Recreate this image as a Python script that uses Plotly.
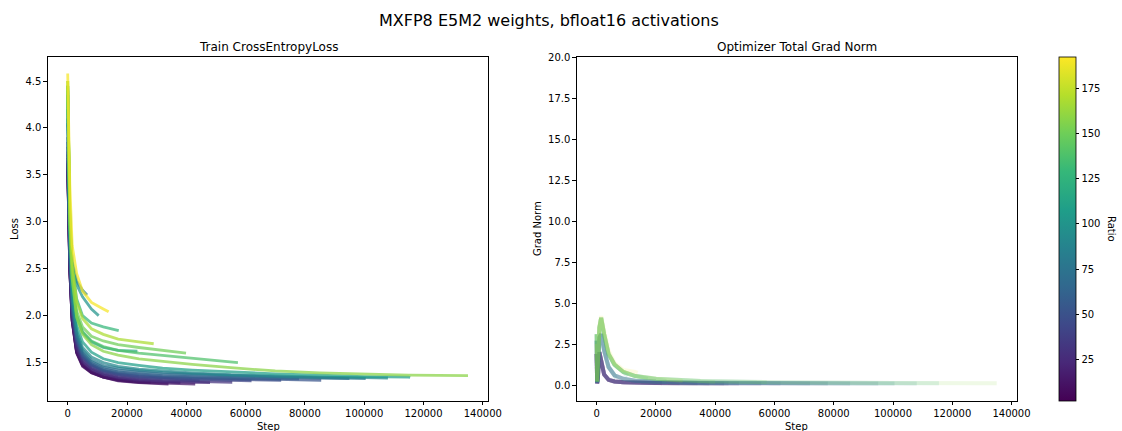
import plotly.graph_objects as go
from plotly.colors import sample_colorscale

# ---------------- data ----------------
RATIO_MIN = 2
RATIO_MAX = 192

LOSS_GRID = [0, 300, 700, 1500, 3000, 5000, 8000, 12000, 17000, 24000, 32000,
             42000, 55000, 70000, 85000, 100000, 115000, 135000]

RUN_RATIOS = [2, 6, 10, 14, 19, 24, 30, 36, 42, 47, 52, 60, 66, 78, 85, 90,
              100, 108, 118, 128, 138, 150, 158, 168, 190]
RUN_END_STEPS = [22000, 28000, 34000, 43000, 38000, 48000, 55500, 44500, 62000,
                 72000, 85500, 78000, 95000, 100500, 6500, 108000, 10450, 115500,
                 23500, 17200, 57400, 39900, 135000, 29000, 13800]

LOSS_R002 = [3.55, 3.10, 2.50, 1.96, 1.62, 1.48, 1.40, 1.35, 1.32, 1.30]
LOSS_R006 = [3.58, 3.10, 2.48, 1.95, 1.61, 1.47, 1.39, 1.345, 1.315, 1.295, 1.29]
LOSS_R010 = [3.60, 3.10, 2.48, 1.94, 1.60, 1.46, 1.39, 1.345, 1.305, 1.285, 1.275, 1.27]
LOSS_R014 = [3.62, 3.10, 2.48, 1.95, 1.61, 1.47, 1.40, 1.345, 1.31, 1.29, 1.28, 1.27, 1.27]
LOSS_R019 = [3.62, 3.15, 2.52, 1.98, 1.64, 1.50, 1.42, 1.365, 1.33, 1.305, 1.29, 1.285]
LOSS_R024 = [3.63, 3.15, 2.53, 1.99, 1.66, 1.51, 1.43, 1.375, 1.34, 1.315, 1.30, 1.29, 1.285]
LOSS_R030 = [3.65, 3.20, 2.58, 2.02, 1.68, 1.53, 1.44, 1.385, 1.35, 1.325, 1.31, 1.30, 1.29, 1.29]
LOSS_R036 = [3.68, 3.20, 2.60, 2.04, 1.71, 1.55, 1.46, 1.40, 1.365, 1.34, 1.325, 1.31, 1.305]
LOSS_R042 = [3.72, 3.25, 2.65, 2.07, 1.73, 1.56, 1.47, 1.41, 1.375, 1.35, 1.335, 1.32, 1.31, 1.305]
LOSS_R047 = [3.75, 3.28, 2.68, 2.08, 1.74, 1.57, 1.475, 1.415, 1.38, 1.355, 1.34, 1.33, 1.32, 1.31, 1.31]
LOSS_R052 = [3.80, 3.30, 2.70, 2.10, 1.76, 1.58, 1.48, 1.42, 1.39, 1.37, 1.35, 1.34, 1.33, 1.32, 1.31, 1.31]
LOSS_R060 = [3.85, 3.35, 2.72, 2.12, 1.77, 1.59, 1.495, 1.435, 1.40, 1.38, 1.36, 1.35, 1.34, 1.33, 1.325]
LOSS_R066 = [3.90, 3.40, 2.75, 2.15, 1.79, 1.61, 1.51, 1.45, 1.42, 1.40, 1.38, 1.37, 1.355, 1.345, 1.335, 1.33]
LOSS_R078 = [4.05, 3.50, 2.80, 2.18, 1.81, 1.63, 1.53, 1.47, 1.44, 1.415, 1.395, 1.38, 1.365, 1.35, 1.34, 1.335, 1.33]
LOSS_R085 = [4.10, 3.55, 2.95, 2.58, 2.37, 2.27, 2.22]
LOSS_R090 = [4.20, 3.60, 2.85, 2.22, 1.84, 1.66, 1.56, 1.50, 1.46, 1.43, 1.41, 1.39, 1.37, 1.355, 1.345, 1.34, 1.335]
LOSS_R100 = [4.35, 3.70, 3.00, 2.55, 2.33, 2.20, 2.07, 2.00]
LOSS_R108 = [4.35, 3.70, 2.95, 2.30, 1.90, 1.72, 1.61, 1.54, 1.50, 1.47, 1.44, 1.42, 1.40, 1.38, 1.365, 1.35, 1.345, 1.34]
LOSS_R118 = [4.40, 3.75, 3.00, 2.38, 2.00, 1.82, 1.72, 1.66, 1.63, 1.62]
LOSS_R128 = [4.45, 3.80, 3.10, 2.55, 2.18, 2.00, 1.92, 1.88, 1.845, 1.84]
LOSS_R138 = [4.45, 3.75, 3.00, 2.40, 2.00, 1.83, 1.73, 1.67, 1.63, 1.60, 1.575, 1.55, 1.51, 1.50]
LOSS_R150 = [4.45, 3.80, 3.05, 2.45, 2.05, 1.88, 1.78, 1.73, 1.69, 1.66, 1.63, 1.60]
LOSS_R158 = [4.50, 3.80, 3.00, 2.40, 1.98, 1.80, 1.69, 1.62, 1.58, 1.54, 1.51, 1.48, 1.445, 1.41, 1.39, 1.375, 1.365, 1.36]
LOSS_R168 = [4.50, 3.85, 3.15, 2.55, 2.15, 1.97, 1.86, 1.80, 1.75, 1.72, 1.70]
LOSS_R190 = [4.58, 4.10, 3.40, 2.75, 2.45, 2.26, 2.14, 2.07, 2.04]

RUN_LOSSES = [LOSS_R002, LOSS_R006, LOSS_R010, LOSS_R014, LOSS_R019, LOSS_R024,
              LOSS_R030, LOSS_R036, LOSS_R042, LOSS_R047, LOSS_R052, LOSS_R060,
              LOSS_R066, LOSS_R078, LOSS_R085, LOSS_R090, LOSS_R100, LOSS_R108,
              LOSS_R118, LOSS_R128, LOSS_R138, LOSS_R150, LOSS_R158, LOSS_R168,
              LOSS_R190]

GN_GRID = [0, 150, 400, 900, 1500, 2500, 4000, 6000, 9000, 13000, 20000, 35000,
           60000, 100000, 135000, 160000]
GN_LOW = [1.9, 0.10, 0.45, 2.0, 1.5, 0.65, 0.32, 0.22, 0.17, 0.14, 0.12, 0.105, 0.095, 0.09, 0.09, 0.09]
GN_MID = [2.7, 0.15, 0.8, 2.9, 3.1, 2.1, 1.1, 0.60, 0.38, 0.27, 0.20, 0.14, 0.12, 0.10, 0.10, 0.10]
GN_HIGH = [3.1, 0.20, 1.2, 3.5, 4.1, 3.1, 1.9, 1.25, 0.80, 0.55, 0.38, 0.25, 0.17, 0.13, 0.11, 0.11]
GN_YEL = [2.5, 0.25, 1.3, 3.6, 4.2, 3.3, 2.1, 1.35, 0.92, 0.80, 0.75, 0.5, 0.3, 0.2, 0.15, 0.15]

X_TICKS = [0, 20000, 40000, 60000, 80000, 100000, 120000, 140000]
LOSS_TICKS = [1.5, 2.0, 2.5, 3.0, 3.5, 4.0, 4.5]
GN_TICKS = [0.0, 2.5, 5.0, 7.5, 10.0, 12.5, 15.0, 17.5, 20.0]
CBAR_TICKS = [25, 50, 75, 100, 125, 150, 175]

# ---------------- figure ----------------
W, H = 1122, 431
fig = go.Figure()

def px_x(p):
    return p / W

def px_y(p):
    return 1 - p / H

def color_for(r):
    return sample_colorscale("Viridis", [(r - RATIO_MIN) / (RATIO_MAX - RATIO_MIN)])[0]

def gn_profile(r):
    if r < 50:
        return GN_LOW
    if r < 100:
        return GN_MID
    if r < 180:
        return GN_HIGH
    return GN_YEL

for r, end, losses in zip(RUN_RATIOS, RUN_END_STEPS, RUN_LOSSES):
    c = color_for(r)
    steps = [s for s in LOSS_GRID if s < end] + [end]
    fig.add_trace(go.Scatter(x=steps, y=losses, mode="lines",
                             line=dict(color=c, width=2.8), opacity=0.72,
                             showlegend=False, hoverinfo="skip",
                             xaxis="x", yaxis="y"))
    prof = gn_profile(r)
    n = len([s for s in GN_GRID if s < end])
    gsteps = GN_GRID[:n] + [end]
    gvals = prof[:n] + [prof[n]]
    fig.add_trace(go.Scatter(x=gsteps, y=gvals, mode="lines",
                             line=dict(color=c, width=4), opacity=0.13,
                             showlegend=False, hoverinfo="skip",
                             xaxis="x2", yaxis="y2"))

# colorbar carrier
fig.add_trace(go.Scatter(
    x=[None, None], y=[None, None], mode="markers", xaxis="x2", yaxis="y2",
    showlegend=False, hoverinfo="skip",
    marker=dict(color=[RATIO_MIN, RATIO_MAX], colorscale="Viridis",
                cmin=RATIO_MIN, cmax=RATIO_MAX, showscale=True,
                colorbar=dict(x=px_x(1059), xanchor="left", xpad=0, ypad=0,
                              y=px_y(57.3), yanchor="top", len=(401 - 57.3) / H,
                              lenmode="fraction", thickness=16.5,
                              thicknessmode="pixels", outlinewidth=0.8,
                              outlinecolor="black", ticks="outside", ticklen=3.5,
                              tickwidth=0.8, tickcolor="black",
                              tickvals=CBAR_TICKS,
                              tickfont=dict(size=10, color="black",
                                            family="DejaVu Sans")))))

axis_common = dict(showgrid=False, zeroline=False, showline=True, linecolor="black",
                   linewidth=0.8, mirror=True, ticks="outside", ticklen=3.5,
                   tickwidth=0.8, tickcolor="black", automargin=False,
                   tickfont=dict(size=10, color="black", family="DejaVu Sans"))

fig.update_layout(
    width=W, height=H, margin=dict(l=0, r=0, t=0, b=0, autoexpand=False),
    paper_bgcolor="white", plot_bgcolor="white",
    font=dict(family="DejaVu Sans", color="black"),
    xaxis=dict(domain=[px_x(47.7), px_x(488)], range=[-6750, 141750],
               tickvals=X_TICKS, tickformat="d", anchor="y", **axis_common),
    yaxis=dict(domain=[px_y(401), px_y(57)], range=[1.09, 4.756],
               tickvals=LOSS_TICKS, tickformat=".1f", anchor="x", **axis_common),
    xaxis2=dict(domain=[px_x(576.7), px_x(1016.7)], range=[-6750, 141750],
                tickvals=X_TICKS, tickformat="d", anchor="y2", **axis_common),
    yaxis2=dict(domain=[px_y(401), px_y(57)], range=[-0.97, 20],
                tickvals=GN_TICKS, tickformat=".1f", anchor="x2", **axis_common),
)

ann = [
    dict(text="MXFP8 E5M2 weights, bfloat16 activations", x=px_x(549), y=px_y(20),
         font=dict(size=16)),
    dict(text="Train CrossEntropyLoss", x=px_x(268), y=px_y(47), font=dict(size=12)),
    dict(text="Optimizer Total Grad Norm", x=px_x(796.7), y=px_y(47), font=dict(size=12)),
    dict(text="Step", x=px_x(268), y=px_y(426.5), font=dict(size=10)),
    dict(text="Step", x=px_x(796.7), y=px_y(426.5), font=dict(size=10)),
    dict(text="Loss", x=px_x(14), y=px_y(229), textangle=-90, font=dict(size=10)),
    dict(text="Grad Norm", x=px_x(537), y=px_y(229), textangle=-90, font=dict(size=10)),
    dict(text="Ratio", x=px_x(1112), y=px_y(229), textangle=90, font=dict(size=10)),
]
for a in ann:
    fig.add_annotation(xref="paper", yref="paper", showarrow=False,
                       xanchor="center", yanchor="middle",
                       font=dict(family="DejaVu Sans", color="black",
                                 size=a["font"]["size"]),
                       text=a["text"], x=a["x"], y=a["y"],
                       textangle=a.get("textangle", 0))

fig.write_html("out.html")
